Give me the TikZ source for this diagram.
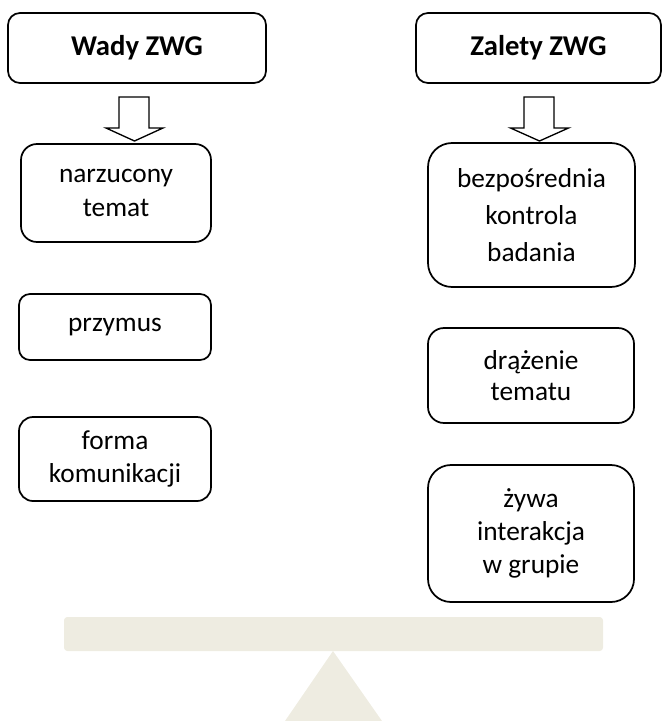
\documentclass[tikz,border=0pt]{standalone}
\usepackage{fontspec}
\setmainfont{Carlito}
\definecolor{beamcol}{HTML}{EEECE1}
\tikzset{
  box/.style n args={3}{draw=black, line width=1.3pt, fill=white,
    rounded corners=#3*0.75pt, inner sep=0pt, outer sep=0pt,
    minimum width=#1*0.75pt, minimum height=#2*0.75pt, align=center,
    font=\fontsize{20.5pt}{25pt}\selectfont},
  headbox/.style={font=\fontsize{21.5pt}{25pt}\selectfont\bfseries},
  blockarrow/.style={draw=black, line width=1pt, fill=white, line join=miter},
  beamshape/.style={fill=beamcol, draw=none}
}
\begin{document}
\begin{tikzpicture}[x=0.75pt, y=-0.75pt]
\useasboundingbox (0,0) rectangle (663,721);
% headers
\node[box={258}{70}{12}, headbox] (wady) at (137,48) {Wady ZWG};
\node[box={245}{70}{12}, headbox] (zalety) at (538.5,48) {Zalety ZWG};
% left column
\node[box={190}{98}{16}] (narz) at (116,193) {narzucony\\temat};
\node[box={192}{66}{11}] (przy) at (115,327) {przymus};
\node[box={192}{84}{14}] (forma) at (115,459) {forma\\komunikacji};
% right column
\node[box={207}{144}{24}, font=\fontsize{20.5pt}{27.5pt}\selectfont] (bezp) at (531.5,215) {bezpośrednia\\kontrola\\badania};
\node[box={206}{95}{16}, font=\fontsize{20.5pt}{23pt}\selectfont] (draz) at (531,375.5) {drążenie\\tematu};
\node[box={206}{137}{23}] (zywa) at (531,533.5) {żywa\\interakcja\\w grupie};
% block arrows
\coordinate (la) at (134,97);
\coordinate (ra) at (539,97);
\draw[blockarrow] (la) ++(-15,0) -- ++(30,0) -- ++(0,31) -- ++(14,0) -- ++(-28.5,13) -- ++(-28.5,-13) -- ++(13,0) -- cycle;
\draw[blockarrow] (ra) ++(-15,0) -- ++(30,0) -- ++(0,31) -- ++(14.5,0) -- ++(-29,13) -- ++(-29,-13) -- ++(13.5,0) -- cycle;
% seesaw
\fill[beamshape, rounded corners=2.5pt] (64,617) rectangle (603,651);
\coordinate (apex) at (333,651);
\fill[beamshape] (apex) -- (285,721) -- (382,721) -- cycle;
\end{tikzpicture}
\end{document}
